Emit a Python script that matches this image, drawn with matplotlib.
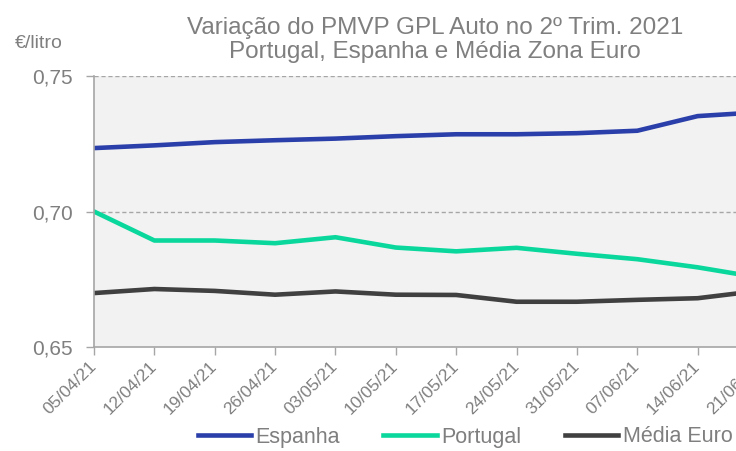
import matplotlib.pyplot as plt
import numpy as np

plt.rcParams.update({
    "font.family": ["Liberation Sans", "DejaVu Sans"],
})

# ── Data ────────────────────────────────────────────────────────────────────
dates = ["05/04/21", "12/04/21", "19/04/21", "26/04/21", "03/05/21", "10/05/21",
         "17/05/21", "24/05/21", "31/05/21", "07/06/21", "14/06/21", "21/06/21"]
espanha = [0.7234, 0.7244, 0.7256, 0.7263, 0.7269, 0.7278,
           0.7285, 0.7285, 0.7289, 0.7298, 0.7352, 0.7366]
portugal = [0.7000, 0.6893, 0.6893, 0.6883, 0.6905, 0.6867,
            0.6853, 0.6866, 0.6844, 0.6824, 0.6794, 0.6757]
media_euro = [0.6699, 0.6714, 0.6707, 0.6693, 0.6705, 0.6693,
              0.6692, 0.6667, 0.6667, 0.6674, 0.6680, 0.6707]
y_ticks = [0.65, 0.70, 0.75]

COLORS = {
    "espanha": "#2B3FAA",
    "portugal": "#0AD79C",
    "media": "#404040",
    "text": "#7F7F7F",
    "axis": "#A6A6A6",
    "bg": "#F2F2F2",
}

W, H = 736, 451
fig = plt.figure(figsize=(W / 100, H / 100), dpi=100)
x0, x_last, y_top, y_bot = 94, 758, 76, 347
ax = fig.add_axes([x0 / W, 1 - y_bot / H, (x_last - x0) / W, (y_bot - y_top) / H])
ax.set_facecolor(COLORS["bg"])

x = np.arange(len(dates))
lw = 3.3
ax.plot(x, espanha, color=COLORS["espanha"], linewidth=lw, label="Espanha")
ax.plot(x, portugal, color=COLORS["portugal"], linewidth=lw, label="Portugal")
ax.plot(x, media_euro, color=COLORS["media"], linewidth=lw, label="Média Euro")

ax.set_xlim(0, len(dates) - 1)
ax.set_ylim(0.65, 0.75)
ax.set_yticks(y_ticks)
ax.set_yticklabels([f"{v:.2f}".replace(".", ",") for v in y_ticks])
ax.set_xticks(x)
ax.set_xticklabels(dates, rotation=45, ha="right", va="center", rotation_mode="anchor")

# dashed gridlines
for v in y_ticks[1:]:
    ax.axhline(v, color=COLORS["axis"], linewidth=1.0, linestyle=(0, (3, 2)), zorder=1)

for side in ["top", "right"]:
    ax.spines[side].set_visible(False)
for side in ["left", "bottom"]:
    ax.spines[side].set_color(COLORS["axis"])
    ax.spines[side].set_linewidth(1.2)

ax.tick_params(axis="y", colors=COLORS["axis"], labelcolor=COLORS["text"],
               labelsize=15, length=6, width=1.0, pad=9)
ax.tick_params(axis="x", colors=COLORS["axis"], labelcolor=COLORS["text"],
               labelsize=12.5, length=6, width=1.0, pad=6)

# title (two lines placed separately)
fig.text(435 / W, 1 - 34 / H, "Variação do PMVP GPL Auto no 2º Trim. 2021",
         ha="center", va="baseline", fontsize=17.5, color=COLORS["text"])
fig.text(435 / W, 1 - 58 / H, "Portugal, Espanha e Média Zona Euro",
         ha="center", va="baseline", fontsize=17.5, color=COLORS["text"])
fig.text(15 / W, 1 - 43 / H, "€/litro", ha="left", va="center", fontsize=14, color=COLORS["text"])

fig.legend(loc="center", bbox_to_anchor=(465 / W, 1 - 437 / H), ncol=3, frameon=False,
           fontsize=15.5, labelcolor=COLORS["text"], handlelength=2.5, handletextpad=0.2,
           columnspacing=2.0, borderpad=0)

fig.savefig("out.png", dpi=100)
